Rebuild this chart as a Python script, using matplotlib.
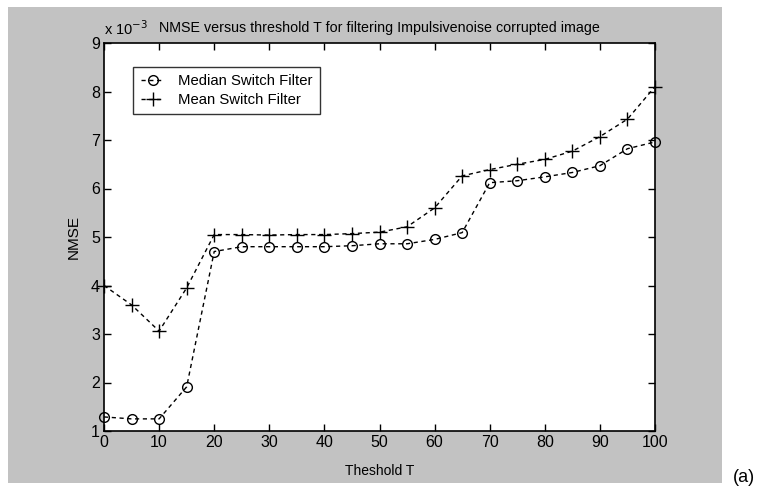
import matplotlib
matplotlib.use("Agg")
import matplotlib.pyplot as plt
import numpy as np
from matplotlib.patches import Rectangle

plt.rcParams["font.family"] = ["Liberation Sans", "DejaVu Sans"]

# NMSE in units of 1e-3, sampled every 5 steps of the threshold
threshold = np.arange(0, 101, 5)
median_nmse = [1.29, 1.25, 1.25, 1.91, 4.70, 4.80, 4.80, 4.80, 4.80, 4.82, 4.86,
               4.86, 4.95, 5.09, 6.12, 6.16, 6.24, 6.33, 6.47, 6.82, 6.96]
mean_nmse = [4.00, 3.60, 3.06, 3.95, 5.05, 5.05, 5.04, 5.05, 5.05, 5.07, 5.10,
             5.21, 5.60, 6.26, 6.39, 6.50, 6.60, 6.77, 7.07, 7.43, 8.10]
x_ticks = list(range(0, 101, 10))
y_ticks = list(range(1, 10))

fig = plt.figure(figsize=(7.6, 4.92), dpi=100)
fig.patch.set_facecolor("white")
# grey frame behind the axes
fig.patches.append(Rectangle((8 / 760, 9 / 492), 714 / 760, 476 / 492,
                             transform=fig.transFigure, facecolor="#c2c2c2",
                             edgecolor="none", zorder=-10))

ax = fig.add_axes([104 / 760, 1 - 431 / 492, 551 / 760, 388 / 492])
ax.set_facecolor("white")

dash = (0, (3.0, 2.6))
ax.plot(threshold, median_nmse, color="black", lw=1.0, linestyle=dash,
        marker="o", markersize=7, markerfacecolor="none", markeredgewidth=1.0,
        label="Median Switch Filter", clip_on=False)
ax.plot(threshold, mean_nmse, color="black", lw=1.0, linestyle=dash,
        marker="+", markersize=10, markeredgewidth=1.0,
        label="Mean Switch Filter", clip_on=False)

ax.set_xlim(0, 100)
ax.set_ylim(1, 9)
ax.set_xticks(x_ticks)
ax.set_yticks(y_ticks)
ax.tick_params(direction="in", length=5, width=1, top=True, right=True,
               labelsize=11.5, pad=3)
for s in ax.spines.values():
    s.set_linewidth(1.2)

ax.set_xlabel("Theshold T", fontsize=10, labelpad=10)
ax.set_ylabel("NMSE", fontsize=11, labelpad=7)
ax.set_title("NMSE versus threshold T for filtering Impulsivenoise corrupted image",
             fontsize=10.3, pad=8)
ax.text(0.0, 1.012, "x 10$^{-3}$", transform=ax.transAxes, fontsize=10.5,
        ha="left", va="bottom")

leg = ax.legend(loc="upper left", bbox_to_anchor=(0.053, 0.938), fontsize=10.7,
                frameon=True, fancybox=False, edgecolor="black",
                handlelength=1.6, borderpad=0.5, labelspacing=0.3,
                handletextpad=0.9, borderaxespad=0)
leg.get_frame().set_linewidth(1.0)

fig.text(744 / 760, 1 - 478 / 492, "(a)", fontsize=13, ha="center", va="center")

fig.savefig("out.png", dpi=100)
